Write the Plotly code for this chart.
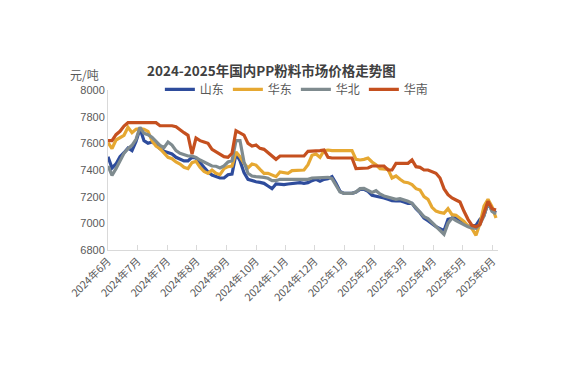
import plotly.graph_objects as go

title_text = "2024-2025年国内PP粉料市场价格走势图"
unit_text = "元/吨"

tick_labels = ["2024年6月", "2024年7月", "2024年7月", "2024年8月", "2024年9月",
               "2024年10月", "2024年11月", "2024年12月", "2025年1月", "2025年2月",
               "2025年3月", "2025年4月", "2025年5月", "2025年6月"]
tick_index = [0, 7.4, 14.8, 22.2, 29.6, 37.0, 44.3, 51.7, 59.1, 66.5, 73.9, 81.3, 88.7, 96.1]

shandong = [7500, 7415, 7445, 7500, 7530, 7565, 7545, 7615, 7710, 7620,
            7600, 7610, 7590, 7560, 7540, 7530, 7520, 7495, 7480, 7468,
            7468, 7495, 7490, 7452, 7420, 7387, 7362, 7352, 7340, 7340,
            7365, 7370, 7520, 7470, 7380, 7330, 7320, 7312, 7307, 7300,
            7280, 7260, 7295, 7290, 7290, 7295, 7300, 7303, 7305, 7300,
            7305, 7320, 7330, 7315, 7330, 7335, 7350, 7300, 7240, 7225,
            7225, 7225, 7235, 7255, 7255, 7240, 7210, 7205, 7195, 7190,
            7180, 7170, 7168, 7170, 7160, 7150, 7150, 7110, 7080, 7040,
            7020, 6995, 6975, 6960, 6945, 7030, 7040, 7045, 7020, 7000,
            6980, 6980, 6985, 7030, 7060, 7150, 7100, 7080]

huadong = [7605, 7560, 7625, 7640, 7660, 7720, 7680, 7705, 7710, 7705,
           7690, 7620, 7580, 7560, 7530, 7495, 7485, 7460, 7445, 7420,
           7410, 7455, 7465, 7420, 7390, 7375, 7400, 7375, 7365, 7410,
           7425, 7430, 7535, 7500, 7450, 7415, 7445, 7437, 7405, 7375,
           7375, 7362, 7350, 7385, 7380, 7375, 7395, 7395, 7395, 7400,
           7440, 7510, 7520, 7495, 7545, 7550, 7545, 7545, 7545, 7545,
           7545, 7545, 7480, 7475, 7480, 7490, 7460, 7440, 7410, 7405,
           7405, 7340, 7355, 7330, 7310, 7305, 7290, 7260, 7250, 7200,
           7180, 7120, 7092, 7082, 7075, 7110, 7065, 7060, 7040, 7015,
           6980, 6960, 6910, 7000, 7130, 7180, 7125, 7040]

huabei = [7430, 7360, 7410, 7470, 7525, 7560, 7585, 7630, 7720, 7675,
          7665, 7645, 7612, 7585, 7568, 7610, 7587, 7545, 7525, 7512,
          7505, 7505, 7495, 7475, 7460, 7442, 7430, 7428, 7415, 7430,
          7460, 7470, 7620, 7620, 7460, 7375, 7355, 7350, 7350, 7345,
          7338, 7320, 7320, 7330, 7330, 7330, 7328, 7330, 7325, 7325,
          7330, 7340, 7340, 7345, 7345, 7345, 7335, 7290, 7235, 7225,
          7225, 7225, 7235, 7260, 7262, 7245, 7232, 7245, 7220, 7205,
          7195, 7185, 7180, 7185, 7178, 7165, 7150, 7115, 7085, 7050,
          7035, 7005, 6978, 6950, 6918, 7000, 7040, 7020, 7005, 6985,
          6975, 6965, 6962, 6995, 7055, 7160, 7090, 7070]

huanan = [7620, 7620, 7665, 7690, 7730, 7755, 7755, 7755, 7755, 7755,
          7755, 7755, 7755, 7732, 7732, 7732, 7732, 7725, 7700, 7680,
          7660, 7520, 7640, 7620, 7610, 7600, 7555, 7537, 7520, 7500,
          7495, 7525, 7695, 7680, 7662, 7600, 7580, 7587, 7562, 7555,
          7530, 7505, 7480, 7505, 7505, 7505, 7505, 7505, 7505, 7505,
          7540, 7540, 7545, 7545, 7550, 7495, 7490, 7490, 7490, 7490,
          7490, 7490, 7410, 7410, 7410, 7415, 7430, 7430, 7430, 7430,
          7400, 7400, 7450, 7450, 7450, 7450, 7475, 7425, 7420, 7400,
          7400, 7390, 7375, 7340, 7260, 7215, 7190, 7175, 7160, 7090,
          7030, 6985, 6975, 6990, 7080, 7165, 7110, 7100]

series = [("山东", shandong, "#2E4C9C"),
          ("华东", huadong, "#E6A832"),
          ("华北", huabei, "#7F8B8F"),
          ("华南", huanan, "#C5501F")]

fig = go.Figure()
for name, vals, color in series:
    fig.add_trace(go.Scatter(x=list(range(len(vals))), y=vals, mode="lines", name=name,
                             line=dict(color=color, width=3.2)))

label_font = dict(family="Liberation Sans, Arial, sans-serif", size=11, color="#595959")
cjk_font = dict(family="Noto Sans CJK SC, sans-serif", size=10.5, color="#595959")

fig.update_layout(
    width=563, height=375,
    margin=dict(l=100, r=73, t=82, b=133, autoexpand=False),
    paper_bgcolor="white", plot_bgcolor="white",
    showlegend=True,
    legend=dict(orientation="h", x=0.133, y=1.095, xanchor="left", yanchor="top",
                font=dict(family="Noto Sans CJK SC, sans-serif", size=12, color="#595959"),
                entrywidth=23, entrywidthmode="pixels", bgcolor="rgba(0,0,0,0)",
                itemwidth=30, tracegroupgap=0),
    annotations=[
        dict(text="<b>" + title_text + "</b>", xref="paper", yref="paper", x=0.418, y=1.128,
             xanchor="center", yanchor="middle", showarrow=False,
             font=dict(family="Noto Sans CJK SC, sans-serif", size=13.5, color="#404040")),
        dict(text=unit_text, xref="paper", yref="paper", x=-0.059, y=1.097,
             xanchor="center", yanchor="middle", showarrow=False,
             font=dict(family="Noto Sans CJK SC, sans-serif", size=12, color="#595959")),
    ],
)

fig.update_xaxes(range=[0, 97.5], tickmode="array", tickvals=tick_index, ticktext=tick_labels,
                 tickangle=-45, tickfont=cjk_font, showgrid=False, zeroline=False,
                 showline=True, linecolor="#D9D9D9", linewidth=1, automargin=False,
                 ticks="inside", ticklen=5, tickcolor="#D9D9D9")
fig.update_yaxes(range=[6800, 8000], dtick=200, tickfont=label_font, showgrid=False,
                 zeroline=False, showline=True, linecolor="#D9D9D9", linewidth=1,
                 ticks="", tickformat="d", automargin=False)

fig.write_html("out.html")
